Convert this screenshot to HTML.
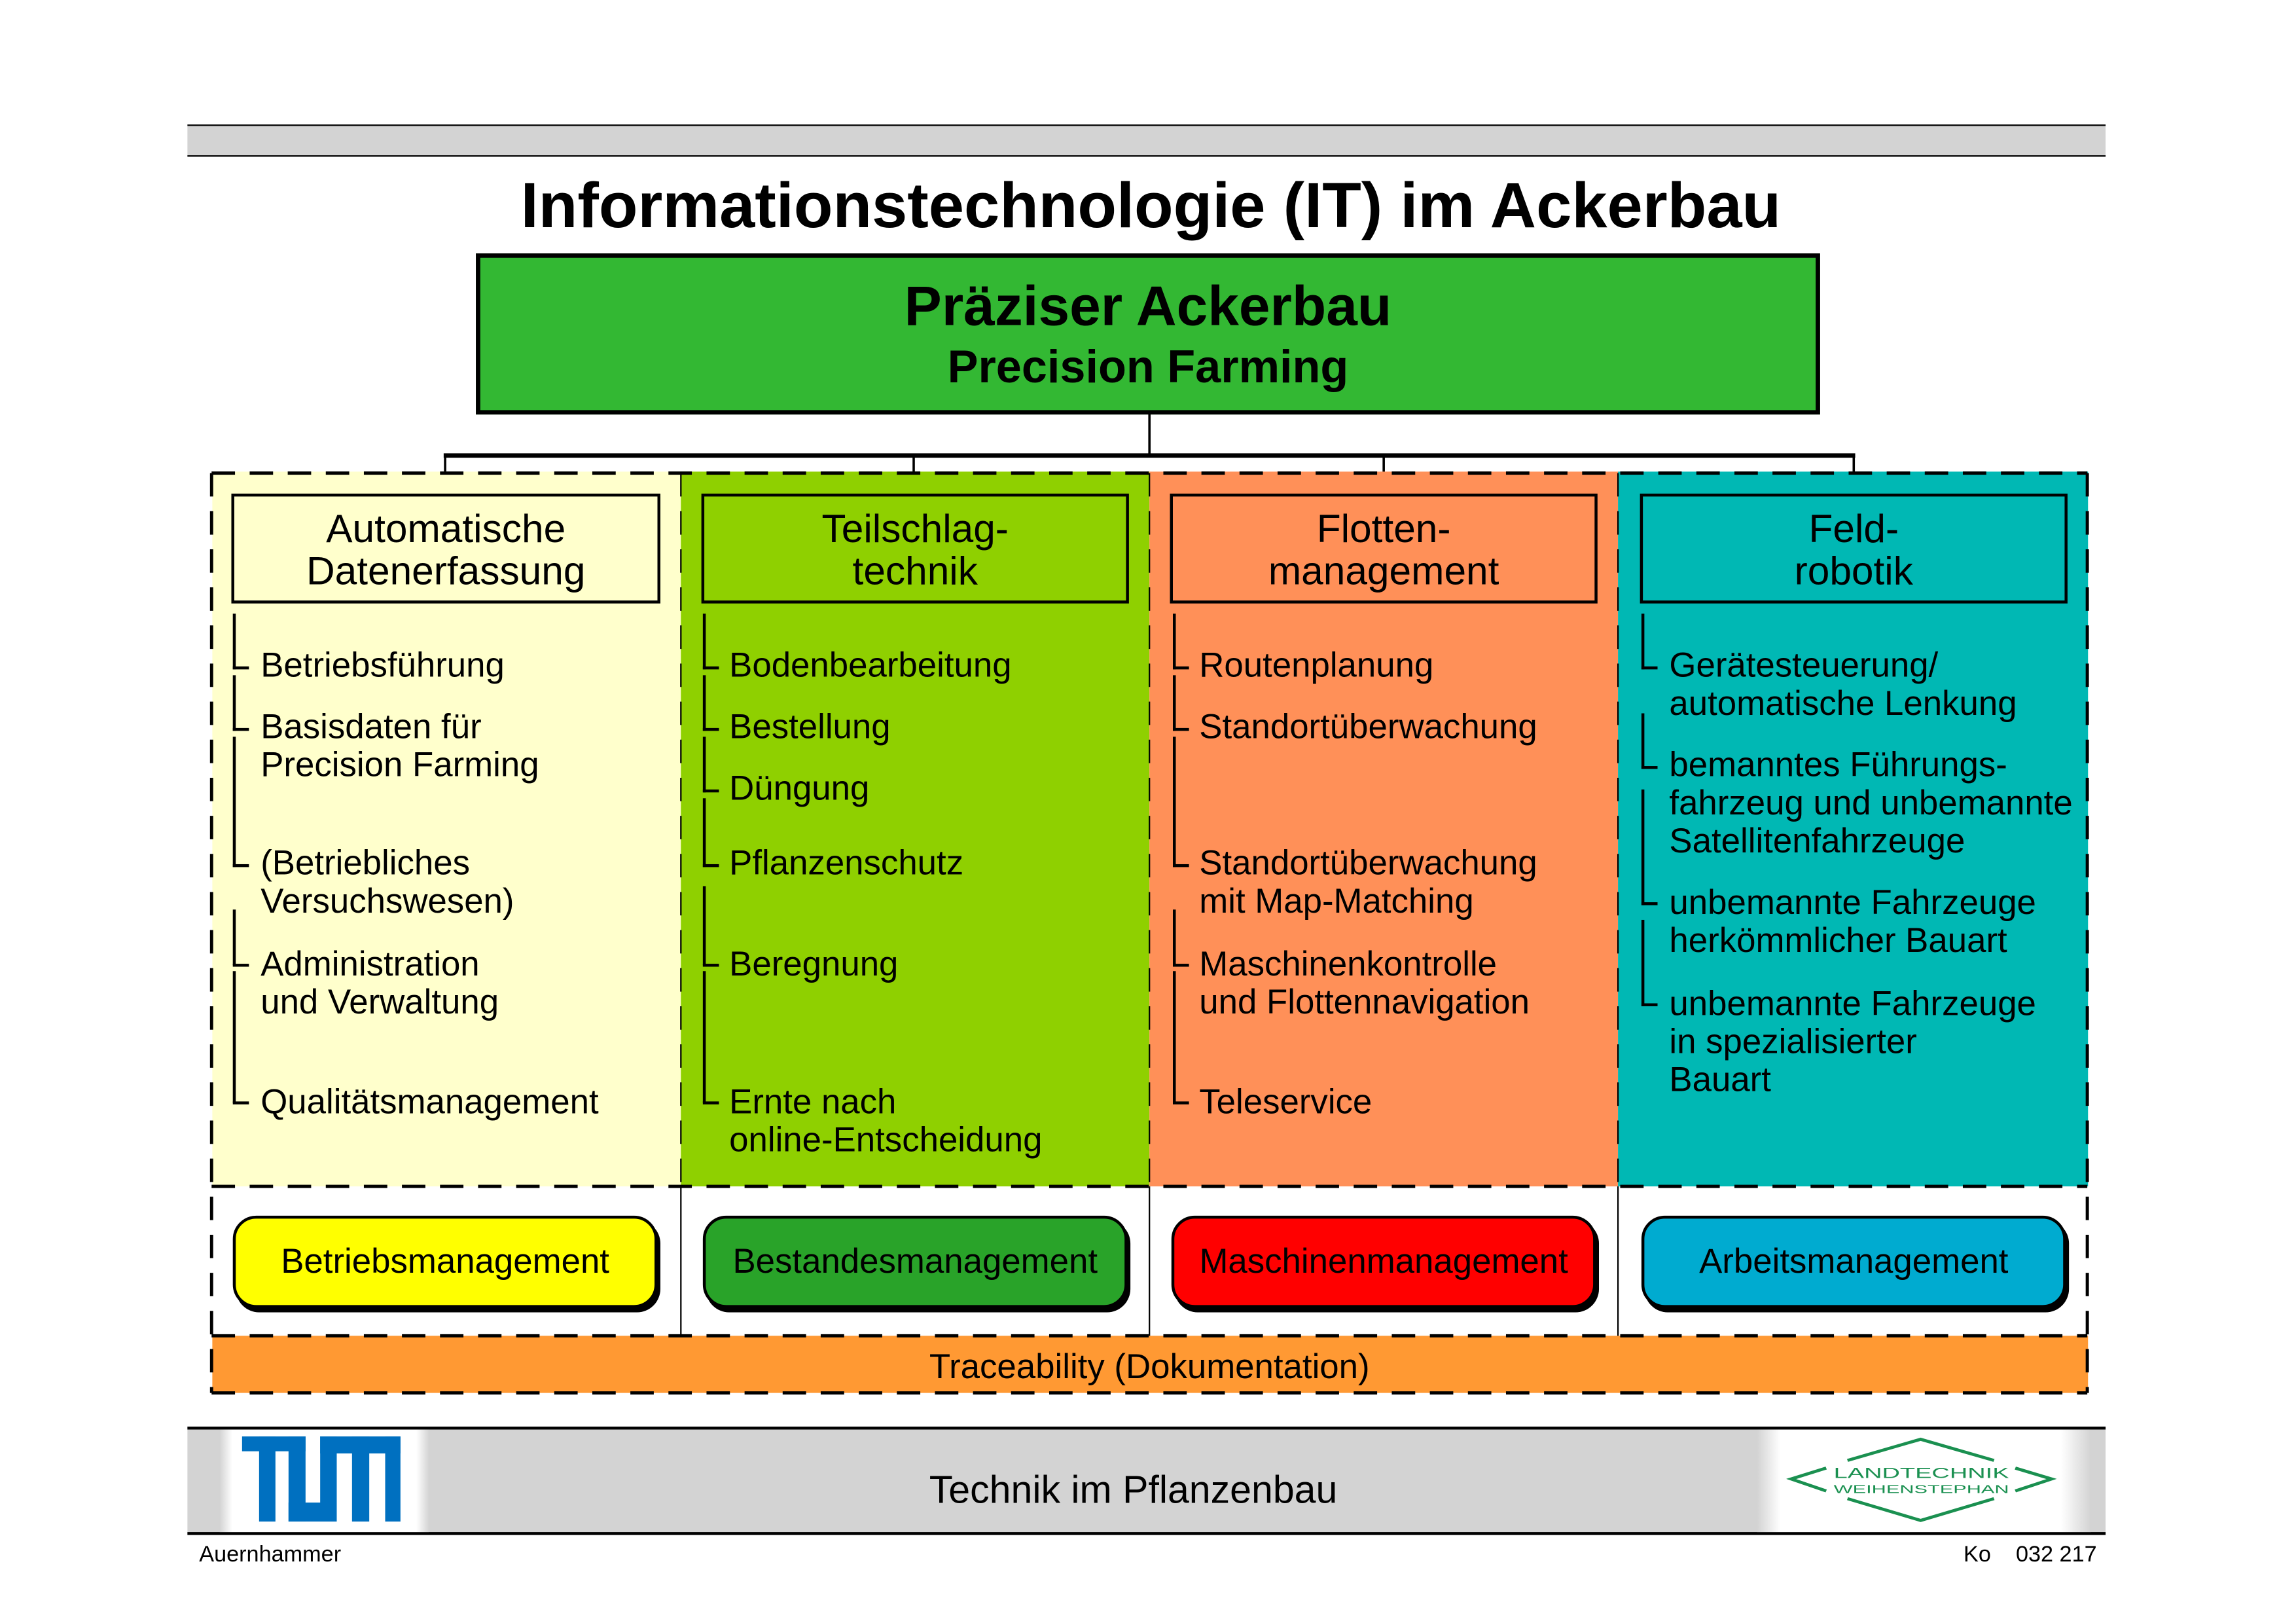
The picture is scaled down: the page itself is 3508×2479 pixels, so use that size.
<!DOCTYPE html>
<html><head><meta charset="utf-8">
<style>
html,body{margin:0;padding:0;background:#fff;}
body{width:3508px;height:2479px;overflow:hidden;position:relative;}
#p{position:absolute;left:0;top:0;width:1568px;height:1108px;transform:scale(2.2372);transform-origin:0 0;font-family:"Liberation Sans",Arial,sans-serif;color:#000;}
.a{position:absolute;}
.hb{position:absolute;border:2.5px solid #000;box-sizing:border-box;text-align:center;font-size:27px;line-height:29px;padding-top:8px;}
.it{position:absolute;font-size:23.6px;line-height:26px;white-space:nowrap;}
.vl{position:absolute;width:1.6px;background:#000;}
.tk{position:absolute;height:1.6px;width:11px;background:#000;}
.rb{position:absolute;width:290px;height:63px;border:2.5px solid #000;border-radius:16px;box-sizing:border-box;box-shadow:2px 3px 0 #000;text-align:center;font-size:23.6px;line-height:60px;}
#items{position:absolute;left:0;top:5px;width:1568px;height:900px;}
</style></head><body><div id="p">
<div class="a" style="left:128px;top:85px;width:1310px;height:20px;background:#d3d3d3;border-top:1.5px solid #000;border-bottom:1.5px solid #000;"></div>
<div class="a" style="left:0;width:1568px;top:115px;text-align:center;font-weight:bold;font-size:43.6px;line-height:52px;padding-left:2px;">Informationstechnologie (IT) im Ackerbau</div>
<div class="a" style="left:325px;top:173px;width:918px;height:110px;background:#33b833;border:3px solid #000;box-sizing:border-box;text-align:center;font-weight:bold;">
<div style="font-size:38.3px;line-height:40px;margin-top:14px;">Präziser Ackerbau</div>
<div style="font-size:31.4px;line-height:36px;margin-top:3px;">Precision Farming</div></div>
<svg class="a" style="left:0;top:0" width="1568" height="1108">
<line x1="785" y1="282" x2="785" y2="311" stroke="#000" stroke-width="1.6"/>
<line x1="303" y1="311" x2="1267" y2="311" stroke="#000" stroke-width="3"/>
<line x1="304" y1="311" x2="304" y2="337" stroke="#000" stroke-width="1.6"/>
<line x1="624" y1="311" x2="624" y2="337" stroke="#000" stroke-width="1.6"/>
<line x1="945" y1="311" x2="945" y2="337" stroke="#000" stroke-width="1.6"/>
<line x1="1266" y1="311" x2="1266" y2="337" stroke="#000" stroke-width="1.6"/>
</svg>
<div class="a" style="left:144.5px;top:322px;width:320.5px;height:488px;background:#ffffcc;"></div>
<div class="a" style="left:465px;top:322px;width:320px;height:488px;background:#8fd000;"></div>
<div class="a" style="left:785px;top:322px;width:320px;height:488px;background:#ff9058;"></div>
<div class="a" style="left:1105px;top:322px;width:320.5px;height:488px;background:#00b8b4;"></div>
<div class="a" style="left:144.5px;top:912px;width:1281px;height:39px;background:#ff9933;"></div>
<svg class="a" style="left:0;top:0" width="1568" height="1108">
<g stroke="#000" stroke-width="2.2" stroke-dasharray="16,10" fill="none">
<line x1="144.5" y1="323" x2="1425.5" y2="323"/>
<line x1="144.5" y1="810" x2="1425.5" y2="810"/>
<line x1="144.5" y1="912" x2="1425.5" y2="912"/>
<line x1="144.5" y1="951" x2="1425.5" y2="951"/>
<line x1="144.5" y1="323" x2="144.5" y2="951"/>
<line x1="1425.5" y1="323" x2="1425.5" y2="951"/>
<line x1="465" y1="323" x2="465" y2="810" stroke-width="1"/>
<line x1="785" y1="323" x2="785" y2="810" stroke-width="1"/>
<line x1="1105" y1="323" x2="1105" y2="810" stroke-width="1"/>
</g>
<g stroke="#000" stroke-width="1">
<line x1="465" y1="810" x2="465" y2="912"/><line x1="785" y1="810" x2="785" y2="912"/><line x1="1105" y1="810" x2="1105" y2="912"/>
</g>
</svg>
<div class="hb" style="left:158px;top:337px;width:293px;height:75px;background:#ffffcc;">Automatische<br>Datenerfassung</div>
<div class="hb" style="left:479px;top:337px;width:292px;height:75px;background:#8fd000;">Teilschlag-<br>technik</div>
<div class="hb" style="left:799px;top:337px;width:292px;height:75px;background:#ff9058;">Flotten-<br>management</div>
<div class="hb" style="left:1120px;top:337px;width:292px;height:75px;background:#00b8b4;">Feld-<br>robotik</div>

<div id="items">
<div class="vl" style="left:159px;top:414px;height:38px"></div><div class="tk" style="left:159px;top:450px"></div>
<div class="it" style="left:178px;top:437px">Betriebsführung</div>
<div class="vl" style="left:159px;top:456px;height:38px"></div><div class="tk" style="left:159px;top:492px"></div>
<div class="it" style="left:178px;top:479px">Basisdaten für<br>Precision Farming</div>
<div class="vl" style="left:159px;top:498px;height:89px"></div><div class="tk" style="left:159px;top:585px"></div>
<div class="it" style="left:178px;top:572px">(Betriebliches<br>Versuchswesen)</div>
<div class="vl" style="left:159px;top:616px;height:38px"></div><div class="tk" style="left:159px;top:653px"></div>
<div class="it" style="left:178px;top:641px">Administration<br>und Verwaltung</div>
<div class="vl" style="left:159px;top:658px;height:90px"></div><div class="tk" style="left:159px;top:747px"></div>
<div class="it" style="left:178px;top:735px">Qualitätsmanagement</div>

<div class="vl" style="left:480px;top:414px;height:38px"></div><div class="tk" style="left:480px;top:450px"></div>
<div class="it" style="left:498px;top:437px">Bodenbearbeitung</div>
<div class="vl" style="left:480px;top:456px;height:38px"></div><div class="tk" style="left:480px;top:492px"></div>
<div class="it" style="left:498px;top:479px">Bestellung</div>
<div class="vl" style="left:480px;top:498px;height:38px"></div><div class="tk" style="left:480px;top:534px"></div>
<div class="it" style="left:498px;top:521px">Düngung</div>
<div class="vl" style="left:480px;top:540px;height:47px"></div><div class="tk" style="left:480px;top:585px"></div>
<div class="it" style="left:498px;top:572px">Pflanzenschutz</div>
<div class="vl" style="left:480px;top:600px;height:54px"></div><div class="tk" style="left:480px;top:653px"></div>
<div class="it" style="left:498px;top:641px">Beregnung</div>
<div class="vl" style="left:480px;top:658px;height:90px"></div><div class="tk" style="left:480px;top:747px"></div>
<div class="it" style="left:498px;top:735px">Ernte nach<br>online-Entscheidung</div>

<div class="vl" style="left:801px;top:414px;height:38px"></div><div class="tk" style="left:801px;top:450px"></div>
<div class="it" style="left:819px;top:437px">Routenplanung</div>
<div class="vl" style="left:801px;top:456px;height:38px"></div><div class="tk" style="left:801px;top:492px"></div>
<div class="it" style="left:819px;top:479px">Standortüberwachung</div>
<div class="vl" style="left:801px;top:498px;height:89px"></div><div class="tk" style="left:801px;top:585px"></div>
<div class="it" style="left:819px;top:572px">Standortüberwachung<br>mit Map-Matching</div>
<div class="vl" style="left:801px;top:616px;height:38px"></div><div class="tk" style="left:801px;top:653px"></div>
<div class="it" style="left:819px;top:641px">Maschinenkontrolle<br>und Flottennavigation</div>
<div class="vl" style="left:801px;top:658px;height:90px"></div><div class="tk" style="left:801px;top:747px"></div>
<div class="it" style="left:819px;top:735px">Teleservice</div>

<div class="vl" style="left:1121px;top:414px;height:38px"></div><div class="tk" style="left:1121px;top:450px"></div>
<div class="it" style="left:1140px;top:437px">Gerätesteuerung/<br>automatische Lenkung</div>
<div class="vl" style="left:1121px;top:482px;height:38px"></div><div class="tk" style="left:1121px;top:518px"></div>
<div class="it" style="left:1140px;top:505px">bemanntes Führungs-<br>fahrzeug und unbemannte<br>Satellitenfahrzeuge</div>
<div class="vl" style="left:1121px;top:534px;height:79px"></div><div class="tk" style="left:1121px;top:611px"></div>
<div class="it" style="left:1140px;top:599px">unbemannte Fahrzeuge<br>herkömmlicher Bauart</div>
<div class="vl" style="left:1121px;top:623px;height:59px"></div><div class="tk" style="left:1121px;top:680px"></div>
<div class="it" style="left:1140px;top:668px">unbemannte Fahrzeuge<br>in spezialisierter<br>Bauart</div>
</div>

<div class="rb" style="left:159px;top:830px;background:#ffff00;">Betriebsmanagement</div>
<div class="rb" style="left:480px;top:830px;background:#29a329;">Bestandesmanagement</div>
<div class="rb" style="left:800px;top:830px;background:#ff0000;">Maschinenmanagement</div>
<div class="rb" style="left:1121px;top:830px;background:#00abd0;">Arbeitsmanagement</div>
<div class="a" style="left:144.5px;width:1281px;top:920px;text-align:center;font-size:23.6px;line-height:28px;">Traceability (Dokumentation)</div>

<div class="a" style="left:128px;top:974px;width:1310px;height:70px;background:#d3d3d3;border-top:2px solid #000;border-bottom:2px solid #000;"></div>
<div class="a" style="left:150px;top:976px;width:143px;height:70px;background:linear-gradient(90deg,#d3d3d3,#fff 6%,#fff 94%,#d3d3d3);"></div>
<div class="a" style="left:1200px;top:976px;width:228px;height:70px;background:linear-gradient(90deg,#d3d3d3,#fff 7%,#fff 91%,#d3d3d3);"></div>
<svg class="a" style="left:129.6px;top:974.4px" width="178.8" height="89.4" viewBox="0 0 1200 600" preserveAspectRatio="none">
<g fill="#0070c0">
<rect x="237" y="45" width="291" height="68"/>
<rect x="315" y="45" width="75" height="390"/>
<rect x="450" y="45" width="78" height="390"/>
<rect x="450" y="348" width="221" height="87"/>
<rect x="595" y="45" width="76" height="390"/>
<rect x="595" y="45" width="368" height="78"/>
<rect x="741" y="45" width="79" height="390"/>
<rect x="893" y="45" width="70" height="390"/>
</g></svg>
<svg class="a" style="left:1206.9px;top:974.4px" width="268.2" height="89.4" viewBox="0 0 1568 600" preserveAspectRatio="none">
<g stroke="#1a9050" stroke-width="14" fill="none">
<polyline points="320,155 612,58 905,155"/>
<polyline points="235,190 95,240 235,295"/>
<polyline points="990,190 1135,240 990,295"/>
<polyline points="320,330 612,430 905,330"/>
</g>
<text x="265" y="235" textLength="700" lengthAdjust="spacingAndGlyphs" font-family="Liberation Sans, sans-serif" font-size="66" fill="#1a9050">LANDTECHNIK</text>
<text x="265" y="305" textLength="700" lengthAdjust="spacingAndGlyphs" font-family="Liberation Sans, sans-serif" font-size="52" fill="#1a9050">WEIHENSTEPHAN</text>
</svg>
<div class="a" style="left:0;width:1548px;top:1001px;text-align:center;font-size:26.4px;line-height:32px;">Technik im Pflanzenbau</div>
<div class="a" style="left:136px;top:1053px;font-size:15.3px;line-height:18px;">Auernhammer</div>
<div class="a" style="left:1300px;width:132px;top:1053px;font-size:15.3px;line-height:18px;text-align:right;white-space:pre;">Ko    032 217</div>
</div></body></html>
